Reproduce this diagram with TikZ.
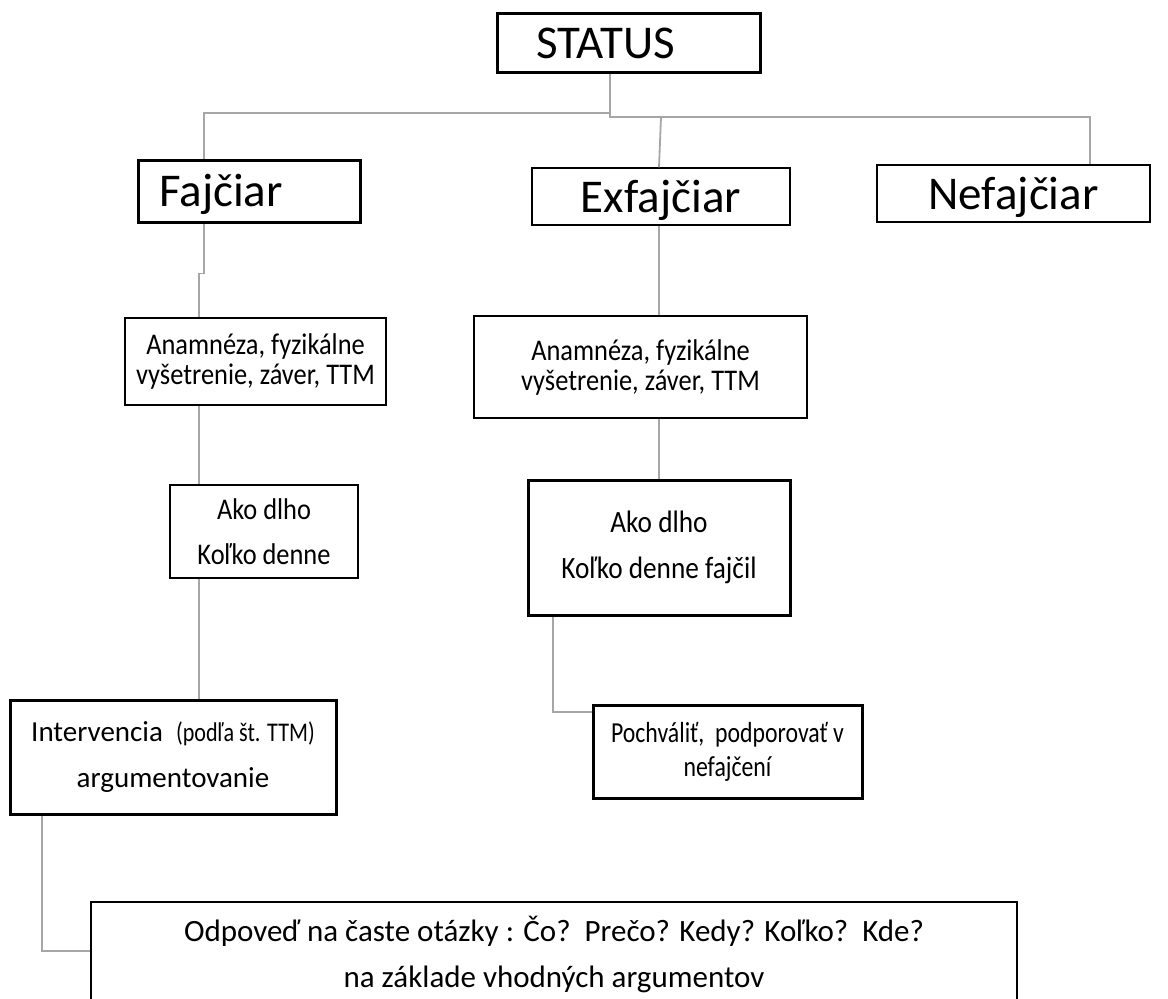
\documentclass[tikz,border=0pt]{standalone}
\usepackage{fontspec}
\setmainfont{Carlito}
\newfontfamily\narrowfont[FakeStretch=0.88]{Carlito}
\newfontfamily\slimfont[FakeStretch=0.82]{Carlito}

\begin{document}
\begin{tikzpicture}[x=1pt,y=-1pt]
\tikzstyle{box}=[rectangle,draw,inner sep=0pt,align=center]
\tikzstyle{thickbox}=[box,line width=3pt]
\tikzstyle{thinbox}=[box,line width=1.5pt]
\tikzstyle{link}=[draw=black!35,line width=1.8pt]
\tikzstyle{big}=[font=\fontsize{47}{52}\selectfont,text height=36pt,text depth=5pt]
\useasboundingbox (0,0) rectangle (1168,999);

\node[thickbox,big,minimum width=263pt,minimum height=59pt] (status) at (628.5,42.5) {STATUS\hspace*{46pt}};
\node[thickbox,big,minimum width=222pt,minimum height=62pt] (fajciar) at (249,191) {Fajčiar\hspace*{56pt}};
\node[thinbox,big,minimum width=258pt,minimum height=57pt] (exfajciar) at (661,196.5) {Exfajčiar};
\node[thinbox,big,minimum width=273pt,minimum height=57pt] (nefajciar) at (1013.5,193.5) {Nefajčiar};

\node[thinbox,font=\narrowfont\fontsize{30}{30}\selectfont,minimum width=261pt,minimum height=87pt] (anam1) at (255.5,361.5)
  {Anamnéza, fyzikálne\\vyšetrenie, záver, TTM};
\node[thinbox,font=\narrowfont\fontsize{30}{30}\selectfont,minimum width=333pt,minimum height=102pt] (anam2) at (640.5,367)
  {Anamnéza, fyzikálne\\vyšetrenie, záver, TTM};

\node[thinbox,font=\narrowfont\fontsize{30}{45}\selectfont,minimum width=188pt,minimum height=93pt] (ako1) at (264,531.5)
  {Ako dlho\\Koľko denne};
\node[thickbox,font=\narrowfont\fontsize{31}{46}\selectfont,minimum width=262pt,minimum height=135pt] (ako2) at (659,547.5)
  {Ako dlho\\Koľko denne fajčil};

\node[thickbox,font=\fontsize{29}{46}\selectfont,minimum width=326pt,minimum height=114pt] (interv) at (173,757)
  {Intervencia\ \ {\slimfont\fontsize{27}{46}\selectfont(podľa št. TTM)}\\argumentovanie};
\node[thickbox,font=\slimfont\fontsize{29}{34}\selectfont,minimum width=269pt,minimum height=93pt] (pochv) at (727.5,751.5)
  {Pochváliť,\ \ podporovať v\\nefajčení};

\node[thinbox,font=\fontsize{31}{46}\selectfont,minimum width=926pt,minimum height=104pt] (zaver) at (554,954)
  {Odpoveď na časte otázky : Čo?\ \ Prečo? Kedy? Koľko?\ \ Kde?\\na základe vhodných argumentov};

\coordinate (hub) at (610,113);
\coordinate (hubr) at (610,117);
\draw[link] ([xshift=-18.5pt]status.south) -- (hub) -| ([xshift=-45pt]fajciar.north);
\draw[link] (hub) -- (hubr) -| ([xshift=76.5pt]nefajciar.north);
\draw[link] (hubr -| exfajciar.north) -- ([xshift=-2pt]exfajciar.north);
\draw[link] ([xshift=-45pt]fajciar.south) -- ++(0,50) -| ([xshift=-56.5pt]anam1.north);
\draw[link] ([xshift=-56.5pt]anam1.south) -- ([xshift=-65pt]ako1.north);
\draw[link] ([xshift=-65pt]ako1.south) -- ([xshift=26pt]interv.north);
\draw[link] ([xshift=-131pt]interv.south) |- ([yshift=3pt]zaver.west);
\draw[link] ([xshift=-2pt]exfajciar.south) -- ([xshift=18.5pt]anam2.north);
\draw[link] ([xshift=18.5pt]anam2.south) -- (ako2.north);
\draw[link] ([xshift=-106pt]ako2.south) |- ([yshift=39.5pt]pochv.west);
\end{tikzpicture}
\end{document}
